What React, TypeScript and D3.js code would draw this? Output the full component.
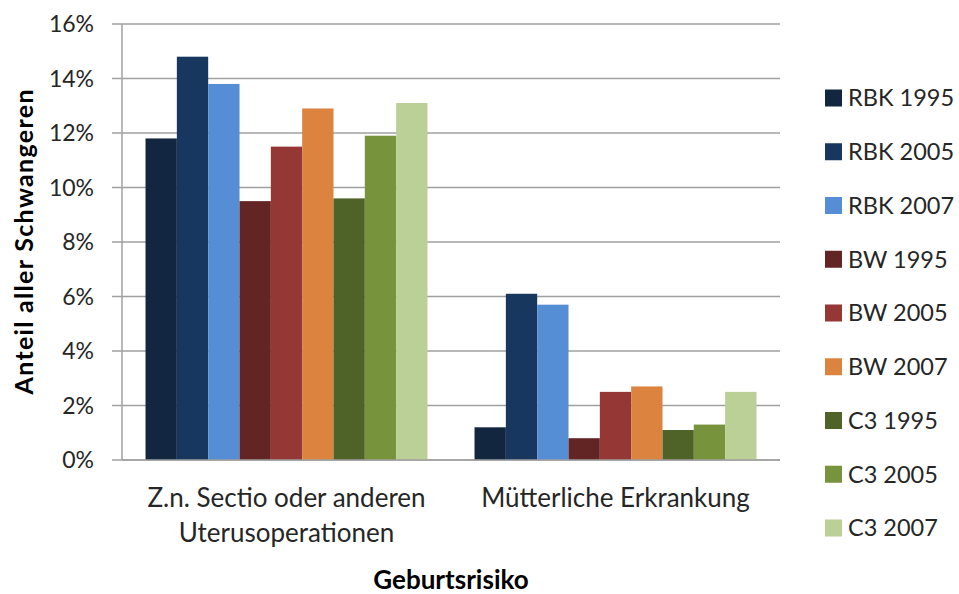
import * as d3 from "d3";

const categories = [
  ["Z.n. Sectio oder anderen", "Uterusoperationen"],
  ["Mütterliche Erkrankung"],
];
const seriesNames = [
  "RBK 1995",
  "RBK 2005",
  "RBK 2007",
  "BW 1995",
  "BW 2005",
  "BW 2007",
  "C3 1995",
  "C3 2005",
  "C3 2007",
];
const seriesColors = [
  "#12263f",
  "#17375e",
  "#558ed5",
  "#632523",
  "#953735",
  "#dc843f",
  "#4f6228",
  "#77933c",
  "#bad096",
];
// percent values per series: [category 1, category 2]
const sectio = [11.8, 14.8, 13.8, 9.5, 11.5, 12.9, 9.6, 11.9, 13.1];
const erkrankung = [1.2, 6.1, 5.7, 0.8, 2.5, 2.7, 1.1, 1.3, 2.5];
const yTicks = [0, 2, 4, 6, 8, 10, 12, 14, 16];

const W = 959;
const H = 594;
const margin = { top: 24, left: 122, right: 179, bottom: 134 };
const font = "Lato, 'Open Sans', sans-serif";

export default function App() {
  const catKeys = categories.map((c) => c.join(" "));
  const data = [sectio, erkrankung];

  const x0 = d3
    .scaleBand<string>()
    .domain(catKeys)
    .range([margin.left, W - margin.right])
    .paddingInner(0.143)
    .paddingOuter(0.0715);
  const x1 = d3
    .scaleBand<string>()
    .domain(seriesNames)
    .range([0, x0.bandwidth()]);
  const y = d3
    .scaleLinear()
    .domain([0, 16])
    .range([H - margin.bottom, margin.top]);
  const color = d3.scaleOrdinal<string, string>().domain(seriesNames).range(seriesColors);

  const legendY = d3
    .scalePoint<string>()
    .domain(seriesNames)
    .range([98, 528]);

  const x0Left = margin.left;
  const xRight = W - margin.right;

  return (
    <div style={{ position: "absolute", left: 0, top: 0 }}>
      <svg width={W} height={H} style={{ display: "block", background: "#fff" }}>
        {/* gridlines + ticks */}
        {yTicks.map((t) => (
          <g key={t}>
            <line
              x1={x0Left - 10}
              x2={xRight}
              y1={y(t)}
              y2={y(t)}
              stroke="#a0a0a0"
              strokeWidth={1.5}
            />
            <text
              x={94}
              y={y(t)}
              dy="0.35em"
              textAnchor="end"
              fontFamily={font}
              fontSize={23}
              fill="#262626"
            >
              {t}%
            </text>
          </g>
        ))}
        <line
          x1={x0Left}
          x2={x0Left}
          y1={y(16)}
          y2={y(0)}
          stroke="#a0a0a0"
          strokeWidth={1.5}
        />

        {/* bars */}
        {catKeys.map((k, ci) => (
          <g key={k} transform={`translate(${x0(k)},0)`}>
            {seriesNames.map((s, si) => (
              <rect
                key={s}
                x={x1(s)}
                y={y(data[ci][si])}
                width={x1.bandwidth()}
                height={y(0) - y(data[ci][si])}
                fill={color(s)}
              />
            ))}
          </g>
        ))}
        <line
          x1={x0Left}
          x2={xRight}
          y1={y(0)}
          y2={y(0)}
          stroke="#a0a0a0"
          strokeWidth={1.5}
        />

        {/* category labels */}
        {categories.map((lines, ci) => (
          <text
            key={ci}
            x={(x0(catKeys[ci]) as number) + x0.bandwidth() / 2}
            y={507}
            textAnchor="middle"
            fontFamily={font}
            fontSize={26}
            fill="#262626"
          >
            {lines.map((l, li) => (
              <tspan key={li} x={(x0(catKeys[ci]) as number) + x0.bandwidth() / 2} dy={li === 0 ? 0 : 35}>
                {l}
              </tspan>
            ))}
          </text>
        ))}

        {/* axis titles */}
        <text
          x={(x0Left + xRight) / 2}
          y={589}
          textAnchor="middle"
          fontFamily={font}
          fontWeight="bold"
          fontSize={26}
          fill="#000"
        >
          Geburtsrisiko
        </text>
        <text
          transform={`translate(33,${(y(0) + y(16)) / 2}) rotate(-90)`}
          textAnchor="middle"
          fontFamily={font}
          fontWeight="bold"
          fontSize={25}
          textLength={305}
          lengthAdjust="spacing"
          fill="#000"
        >
          Anteil aller Schwangeren
        </text>

        {/* legend */}
        {seriesNames.map((s) => (
          <g key={s} transform={`translate(825,${legendY(s)})`}>
            <rect x={0} y={-8.5} width={17} height={17} fill={color(s)} />
            <text
              x={23}
              y={0}
              dy="0.36em"
              fontFamily={font}
              fontSize={23.5}
              fill="#262626"
            >
              {s}
            </text>
          </g>
        ))}
      </svg>
    </div>
  );
}
